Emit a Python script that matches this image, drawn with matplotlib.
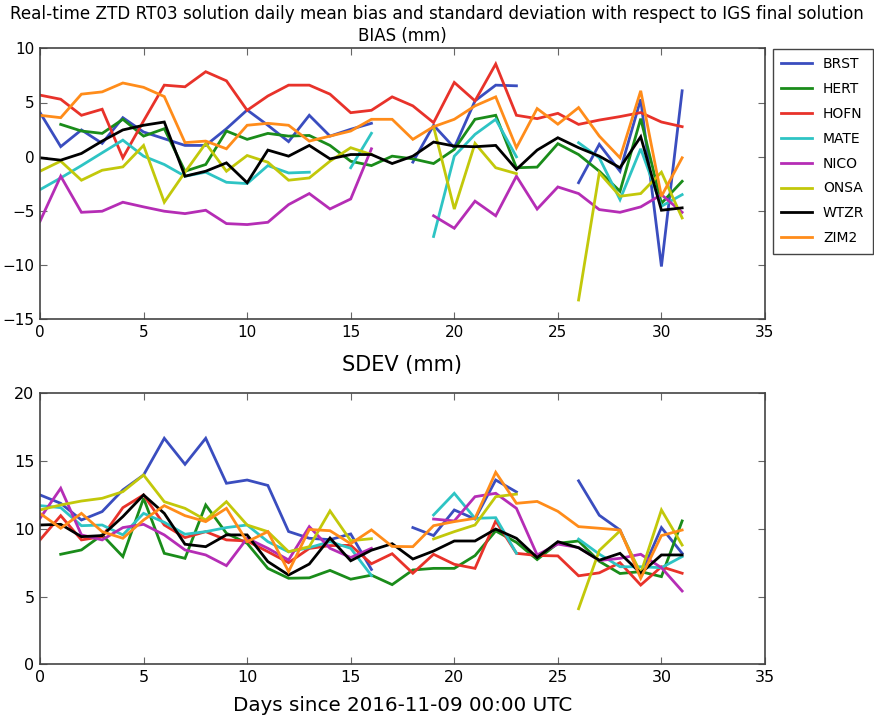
import numpy as np
import matplotlib
matplotlib.use("Agg")
import matplotlib.pyplot as plt
from matplotlib import font_manager

nan = np.nan
days = list(range(32))
stations = ["BRST", "HERT", "HOFN", "MATE", "NICO", "ONSA", "WTZR", "ZIM2"]
colors = ["#3a4dbf", "#1a8c1a", "#e8322a", "#2ec4c4", "#b52db5", "#c2c80a", "#000000", "#ff8c1a"]

bias_brst = [4.07, 0.93, 2.47, 1.23, 3.6, 2.28, 1.66, 1.04, 1.04, 2.58, 4.31, 2.9, 1.39, 3.82, 1.9, 2.53,
             3.08, nan, -0.5, 2.9, 0.83, 5.15, 6.6, 6.54, nan, nan, -2.4, 1.14, -1.34, 5.3, -10.13, 6.08]
bias_hert = [nan, 2.98, 2.37, 2.15, 3.45, 1.9, 2.58, -1.34, -0.72, 2.37, 1.6, 2.15, 1.9, 1.96, 1.04, -0.42,
             -0.82, 0.05, -0.2, -0.63, 0.67, 3.45, 3.82, -1.02, -0.96, 1.2, 0.2, -1.34, -3.19, 3.51, -4.3, -2.27]
bias_hofn = [5.68, 5.3, 3.82, 4.38, -0.1, 3.3, 6.6, 6.45, 7.84, 7.0, 4.28, 5.6, 6.6, 6.6, 5.77, 4.06,
             4.28, 5.52, 4.69, 3.14, 6.85, 5.15, 8.55, 3.82, 3.51, 4.0, 2.98, 3.38, 3.7, 4.07, 3.2, 2.77]
bias_mate = [-3.04, -1.96, -0.82, 0.36, 1.53, 0.05, -0.72, -1.8, -1.43, -2.36, -2.48, -0.82, -1.5, -1.43, nan, -1.02,
             2.16, nan, nan, -7.36, 0.05, 2.06, 3.45, -0.01, nan, nan, 1.29, -0.1, -3.96, 0.73, -4.57, -3.5]
bias_nico = [-5.96, -1.8, -5.13, -5.03, -4.2, -4.63, -5.03, -5.25, -4.94, -6.17, -6.26, -6.05, -4.42, -3.4, -4.82, -3.9,
             0.73, nan, nan, -5.45, -6.6, -4.1, -5.45, -1.8, -4.83, -2.79, -3.4, -4.88, -5.13, -4.63, -3.5, -5.13]
bias_onsa = [-1.34, -0.41, -2.17, -1.25, -0.94, 1.04, -4.2, -1.43, 1.23, -1.34, 0.11, -0.51, -2.17, -1.96, -0.41, 0.83,
             0.2, nan, nan, 2.77, -4.83, 1.23, -1.02, -1.56, nan, nan, -13.22, -1.49, -3.65, -3.4, -1.43, -5.65]
bias_wtzr = [-0.1, -0.32, 0.3, 1.44, 2.47, 2.9, 3.2, -1.8, -1.34, -0.57, -2.4, 0.61, 0.05, 1.04, -0.2, 0.2,
             0.2, -0.63, 0.05, 1.35, 0.98, 0.92, 1.04, -1.17, 0.61, 1.75, 0.83, 0.05, -1.02, 1.84, -4.94, -4.72]
bias_zim2 = [3.82, 3.6, 5.77, 5.98, 6.8, 6.4, 5.55, 1.3, 1.44, 0.73, 2.9, 3.08, 2.9, 1.44, 1.9, 2.37,
             3.45, 3.45, 1.6, 2.77, 3.45, 4.69, 5.52, 0.83, 4.44, 3.0, 4.53, 1.9, -0.1, 6.08, -3.65, -0.1]

sdev_brst = [12.5, 11.88, 10.65, 11.27, 12.87, 13.97, 16.68, 14.76, 16.68, 13.36, 13.6, 13.2, 9.8, 9.3, 9.2, 9.62,
             7.0, nan, 10.09, 9.5, 11.39, 10.72, 13.6, 12.72, nan, nan, 13.54, 11.0, 9.91, 6.59, 10.09, 8.19]
sdev_hert = [nan, 8.12, 8.44, 9.55, 7.95, 12.25, 8.19, 7.82, 11.76, 9.67, 8.93, 7.08, 6.35, 6.38, 6.93, 6.28,
             6.58, 5.88, 6.96, 7.08, 7.08, 8.02, 9.84, 9.0, 7.73, 8.93, 9.1, 7.6, 6.7, 6.84, 6.47, 10.58]
sdev_hofn = [9.18, 10.97, 9.18, 9.42, 11.56, 12.5, 10.28, 9.35, 9.79, 9.18, 9.1, 8.31, 7.5, 8.55, 8.76, 8.78,
             7.42, 8.16, 6.72, 8.12, 7.38, 7.08, 10.58, 8.19, 8.03, 8.0, 6.53, 6.75, 7.5, 5.85, 7.2, 6.72]
sdev_mate = [11.71, 11.56, 10.23, 10.28, 9.55, 11.14, 10.48, 9.6, 9.79, 10.09, 10.28, 9.05, 8.3, 8.61, 9.05, 8.56,
             6.55, nan, nan, 11.02, 12.62, 10.77, 10.82, 8.2, nan, nan, 9.24, 8.13, 7.2, 7.2, 7.13, 7.95]
sdev_nico = [10.77, 12.99, 9.55, 9.18, 10.09, 10.33, 9.55, 8.44, 8.07, 7.28, 9.3, 8.56, 7.7, 10.16, 8.56, 7.88,
             8.56, nan, nan, 10.72, 10.58, 12.37, 12.62, 11.51, 8.07, 8.87, 8.62, 7.66, 7.82, 8.12, 7.13, 5.41]
sdev_onsa = [11.39, 11.76, 12.05, 12.25, 12.74, 13.97, 12.0, 11.51, 10.65, 12.0, 10.28, 9.79, 8.31, 8.68, 11.32, 9.12,
             9.27, nan, nan, 9.25, 9.79, 10.28, 12.37, 12.56, nan, nan, 4.1, 8.4, 9.85, 6.72, 11.39, 8.8]
sdev_wtzr = [10.28, 10.33, 9.42, 9.5, 10.9, 12.5, 11.14, 8.86, 8.68, 9.55, 9.55, 7.58, 6.59, 7.4, 9.32, 7.64,
             8.42, 8.9, 7.77, 8.36, 9.1, 9.1, 9.98, 9.3, 7.88, 9.05, 8.6, 7.68, 8.19, 6.72, 8.07, 8.07]
sdev_zim2 = [11.14, 10.04, 11.14, 9.79, 9.3, 10.65, 11.71, 10.97, 10.53, 11.51, 9.05, 9.79, 6.84, 9.95, 9.86, 8.9,
             9.92, 8.7, 8.68, 10.23, 10.53, 10.77, 14.17, 11.88, 12.02, 11.29, 10.16, 10.04, 9.91, 6.35, 9.5, 9.91]

bias = [bias_brst, bias_hert, bias_hofn, bias_mate, bias_nico, bias_onsa, bias_wtzr, bias_zim2]
sdev = [sdev_brst, sdev_hert, sdev_hofn, sdev_mate, sdev_nico, sdev_onsa, sdev_wtzr, sdev_zim2]

suptitle_text = "Real-time ZTD RT03 solution daily mean bias and standard deviation with respect to IGS final solution"
bias_title = "BIAS (mm)"
sdev_title = "SDEV (mm)"
xlabel_text = "Days since 2016-11-09 00:00 UTC"

avail = {f.name for f in font_manager.fontManager.ttflist}
narrow = ["Liberation Sans Narrow", "DejaVu Sans"] if "Liberation Sans Narrow" in avail else ["DejaVu Sans"]

plt.rcParams["font.family"] = ["DejaVu Sans"]
W, H = 874, 722
fig = plt.figure(figsize=(W / 100, H / 100), dpi=100)

ax1 = fig.add_axes([40 / W, 1 - 319.3 / H, 725 / W, 271 / H])
ax2 = fig.add_axes([40 / W, 1 - 664.3 / H, 725 / W, 271 / H])

for ax, data in ((ax1, bias), (ax2, sdev)):
    for name, col, vals in zip(stations, colors, data):
        ax.plot(days, vals, color=col, lw=2.0, label=name, solid_joinstyle="miter")
    ax.set_xlim(0, 35)
    ax.set_xticks(range(0, 36, 5))
    for sp in ax.spines.values():
        sp.set_color("#444444")
        sp.set_linewidth(1.2)
    ax.tick_params(direction="in", top=True, right=True, length=5, width=0.8,
                   color="#666666", labelsize=11, pad=4)

ax1.set_ylim(-15, 10)
ax1.set_yticks(range(-15, 11, 5))
ax2.set_ylim(0, 20)
ax2.set_yticks(range(0, 21, 5))
for lab in ax2.get_xticklabels() + ax2.get_yticklabels():
    lab.set_family(narrow)
    lab.set_fontsize(11.5)

t1 = ax1.set_title(bias_title, family=narrow, fontsize=12, pad=5)
t2 = ax2.set_title(sdev_title, fontsize=15, pad=16)
st = fig.text(437 / W, 1 - 14 / H, suptitle_text, family=narrow, fontsize=13, ha="center", va="center")
xl = ax2.set_xlabel(xlabel_text, family=narrow, fontsize=15, labelpad=8)

# fit widths of the wide texts to the reference
fig.canvas.draw()
r = fig.canvas.get_renderer()
for txt, target in ((st, 856), (xl, 340)):
    w = txt.get_window_extent(r).width
    txt.set_fontsize(txt.get_fontsize() * target / w)

leg = ax1.legend(loc="upper left", bbox_to_anchor=(773 / W, 1 - 49 / H), bbox_transform=fig.transFigure,
                 borderaxespad=0, fancybox=False, framealpha=1, fontsize=10, handlelength=2.2,
                 handletextpad=0.8, labelspacing=0.78, borderpad=0.6)
leg.get_frame().set_edgecolor("#444444")
leg.get_frame().set_linewidth(1.0)

fig.savefig("out.png", dpi=100)
